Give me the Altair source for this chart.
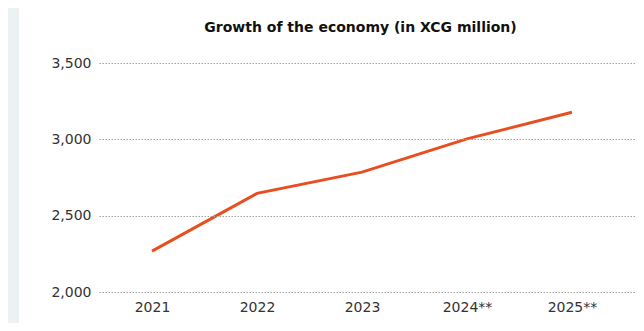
import altair as alt
import pandas as pd

categories = ["2021", "2022", "2023", "2024**", "2025**"]
values = [2268, 2646, 2785, 3003, 3177]
y_ticks = [2000, 2500, 3000, 3500]
title_text = "Growth of the economy (in XCG million)"

df = pd.DataFrame({"idx": list(range(len(categories))), "label": categories, "value": values})

W, H = 537, 229
FONT = "DejaVu Sans"
label_arr = "[" + ",".join("'" + c + "'" for c in categories) + "]"

x_enc = alt.X(
    "idx:Q",
    scale=alt.Scale(domain=[-0.505, 4.61], nice=False, zero=False),
    axis=alt.Axis(
        values=list(range(len(categories))),
        labelExpr=label_arr + "[datum.value]",
        title=None, grid=False, domain=False, ticks=False, tickSize=0,
        labelPadding=8, labelFontSize=14, labelColor="#333333",
        labelFont=FONT, zindex=1,
    ),
)
y_enc = alt.Y(
    "value:Q",
    scale=alt.Scale(domain=[2000, 3500], nice=False, zero=False),
    axis=alt.Axis(
        values=y_ticks, format=",d", title=None, domain=False, ticks=False, tickSize=0,
        labelPadding=8, labelFontSize=14, labelColor="#333333", labelFont=FONT,
        grid=True, gridColor="#a0a0a0", gridDash=[1.5, 1.5], gridWidth=1, zindex=1,
    ),
)

panel = alt.Chart(df).mark_rect(color="white").encode(
    x=alt.value(-80), x2=alt.value(W), y=alt.value(-56), y2=alt.value(H + 31)
)

line = alt.Chart(df).mark_line(color="#E84E1F", strokeWidth=3).encode(x=x_enc, y=y_enc)

chart = alt.layer(panel, line).properties(
    width=W,
    height=H,
    background="#ECF1F4",
    padding={"left": 91, "top": 55, "right": 0, "bottom": 31},
    autosize=alt.AutoSizeParams(type="none"),
    title=alt.TitleParams(
        title_text, anchor="middle", fontSize=14, fontWeight="bold",
        font=FONT, color="#111111", offset=-28, dx=-7, frame="group",
    ),
).configure_view(stroke=None)

chart.save("out.html", embed_options={"renderer": "svg", "actions": False})
